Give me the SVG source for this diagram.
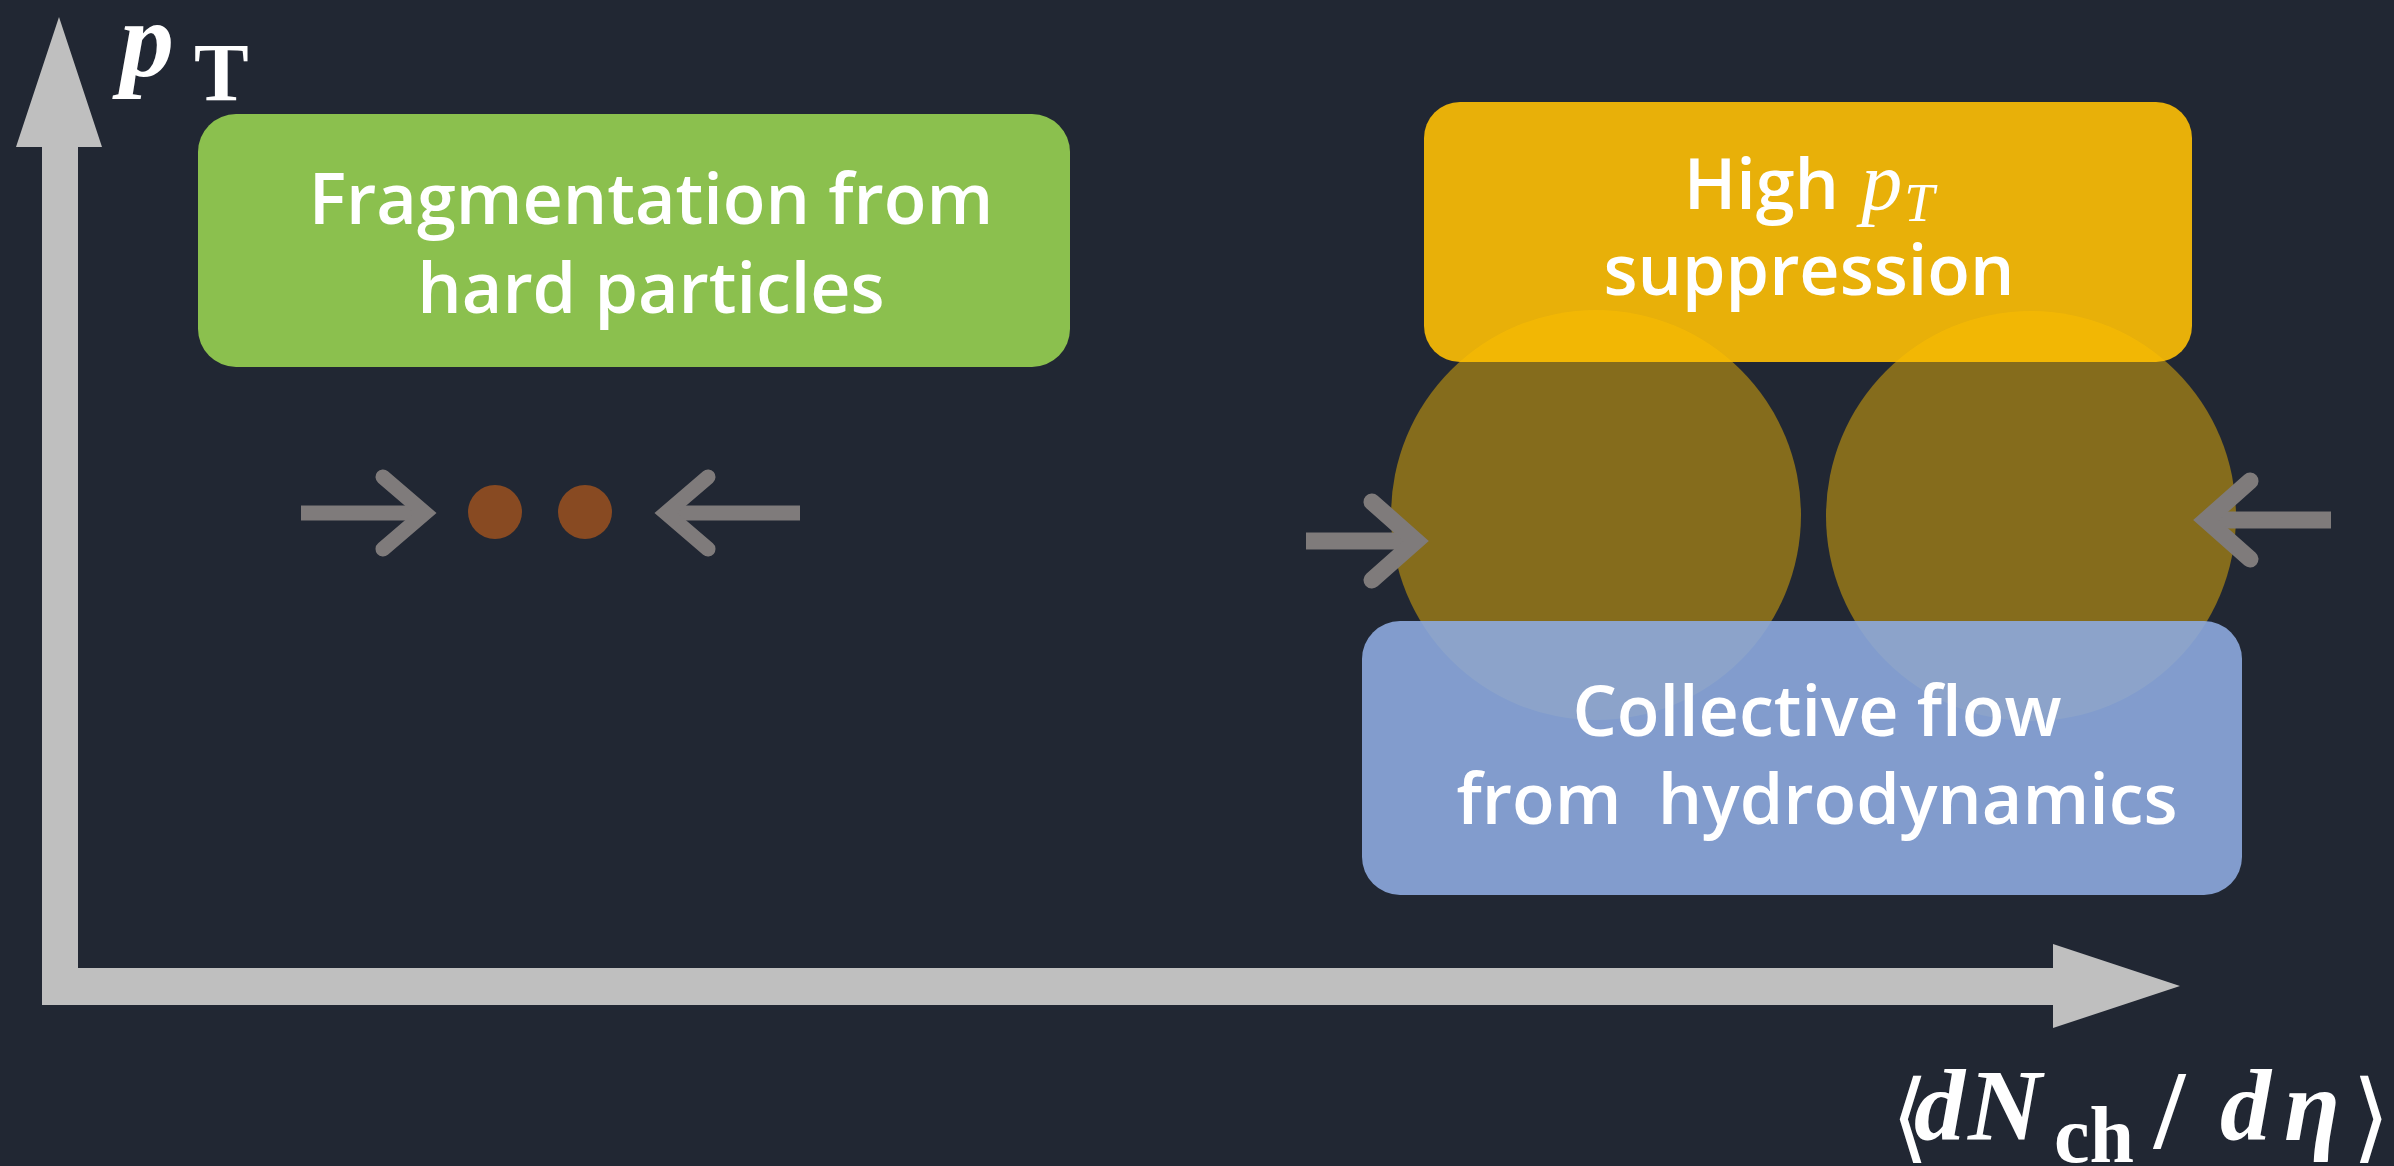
<svg xmlns="http://www.w3.org/2000/svg" width="2394" height="1166" viewBox="0 0 2394 1166">
  <style>
    .box-text { font-family: "Open Sans", "Noto Sans", "Liberation Sans", sans-serif; font-weight: 600; font-size: 70px; fill: #ffffff; text-anchor: middle; }
    .math { font-family: "Liberation Serif", "DejaVu Serif", serif; fill: #ffffff; }
    .bi { font-weight: bold; font-style: italic; }
    .bracket { font-family: "DejaVu Serif", "Liberation Serif", serif; font-weight: normal; font-style: normal; }
    .axis { fill: #bfbfbf; }
    .chevron { fill: none; stroke: #7f7b7b; stroke-linecap: round; stroke-linejoin: miter; }
    .shaft { stroke: #7f7b7b; stroke-linecap: butt; }
  </style>

  <!-- background -->
  <rect x="0" y="0" width="2394" height="1166" fill="#212733"/>

  <!-- coordinate axes -->
  <g id="axes">
    <polygon class="axis" points="59,17 102,147 78,147 78,968 2053,968 2053,944 2180,986 2053,1028 2053,1005 42,1005 42,147 16,147"/>
  </g>

  <!-- axis labels -->
  <g id="label-pt">
    <text class="math" y="76"><tspan class="bi" x="120" font-size="108">p</tspan><tspan x="194" y="100" font-size="82" font-weight="bold">T</tspan></text>
  </g>
  <g id="label-multiplicity">
    <text class="math" font-size="102"><tspan class="bracket" x="1891" y="1150" font-size="98">⟨</tspan><tspan class="bi" x="1914" y="1140">d</tspan><tspan class="bi" x="1968" y="1140">N</tspan><tspan x="2054" y="1162" font-size="80" font-weight="bold">ch</tspan><tspan x="2154" y="1148" font-size="112" font-weight="bold">/</tspan><tspan class="bi" x="2220" y="1140">d</tspan><tspan class="bi" x="2284" y="1140">η</tspan><tspan class="bracket" x="2352" y="1150" font-size="98">⟩</tspan></text>
  </g>

  <!-- low multiplicity: fragmentation -->
  <g id="node-fragmentation">
    <rect x="198" y="114" width="872" height="253" rx="38" fill="#8bc04e"/>
    <text class="box-text" x="651" y="224">Fragmentation from</text>
    <text class="box-text" x="651" y="313">hard particles</text>
  </g>

  <g id="node-hadron-1">
    <circle cx="495" cy="512" r="27" fill="#884a22"/>
  </g>
  <g id="node-hadron-2">
    <circle cx="585" cy="512" r="27" fill="#884a22"/>
  </g>

  <!-- high multiplicity: jet quenching and flow -->
  <g id="node-suppression">
    <rect x="1424" y="102" width="768" height="260" rx="36" fill="#e8b009"/>
    <text class="box-text" x="1809" y="209">High <tspan class="math" font-style="italic" font-weight="normal" font-size="82" dx="4">p</tspan><tspan class="math" font-style="italic" font-weight="normal" font-size="54" dx="2" dy="12">T</tspan></text>
    <text class="box-text" x="1809" y="295">suppression</text>
  </g>

  <g id="node-droplet-left">
    <circle cx="1596" cy="515" r="205" fill="#ffc000" fill-opacity="0.45"/>
  </g>
  <g id="node-droplet-right">
    <circle cx="2031" cy="516" r="205" fill="#ffc000" fill-opacity="0.45"/>
  </g>

  <g id="node-flow">
    <rect x="1362" y="621" width="880" height="274" rx="38" fill="#8daade" fill-opacity="0.9"/>
    <text class="box-text" x="1817" y="736">Collective flow</text>
    <text class="box-text" x="1817" y="824" style="white-space: pre">from  hydrodynamics</text>
  </g>

  <!-- compression arrows -->
  <g id="connectors">
    <line class="shaft" x1="301" y1="513" x2="425" y2="513" stroke-width="15"/>
    <polyline class="chevron" points="383,477 425,513 383,549" stroke-width="15"/>
    <line class="shaft" x1="666" y1="513" x2="800" y2="513" stroke-width="15"/>
    <polyline class="chevron" points="708,477 666,513 708,549" stroke-width="15"/>

    <line class="shaft" x1="1306" y1="541" x2="1416" y2="541" stroke-width="17"/>
    <polyline class="chevron" points="1372,502 1416,541 1372,580" stroke-width="17"/>
    <line class="shaft" x1="2206" y1="520" x2="2331" y2="520" stroke-width="17"/>
    <polyline class="chevron" points="2250,481 2206,520 2250,559" stroke-width="17"/>
  </g>
</svg>
